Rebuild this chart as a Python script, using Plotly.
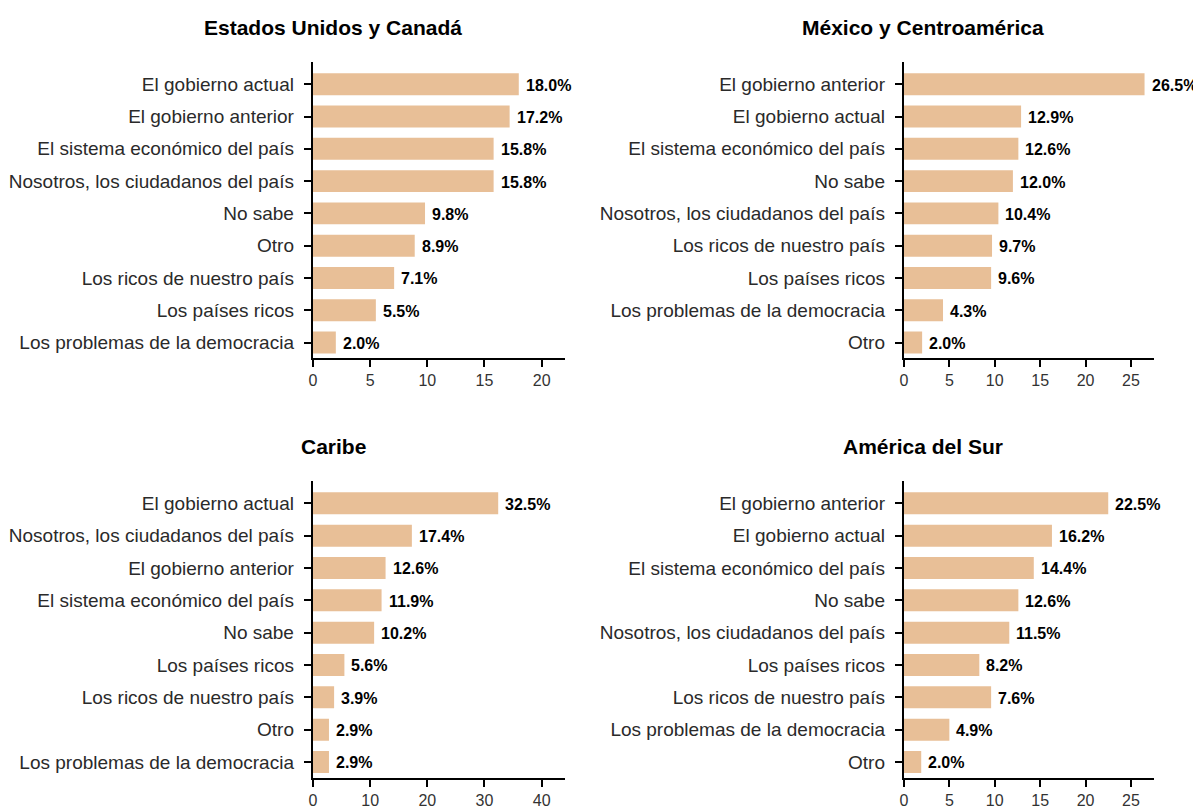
import plotly.graph_objects as go

# ---------------- data ----------------
titles = ["Estados Unidos y Canadá", "México y Centroamérica", "Caribe", "América del Sur"]

cats_us = ["El gobierno actual", "El gobierno anterior", "El sistema económico del país",
           "Nosotros, los ciudadanos del país", "No sabe", "Otro",
           "Los ricos de nuestro país", "Los países ricos", "Los problemas de la democracia"]
vals_us = [18.0, 17.2, 15.8, 15.8, 9.8, 8.9, 7.1, 5.5, 2.0]
labels_us = ["18.0%", "17.2%", "15.8%", "15.8%", "9.8%", "8.9%", "7.1%", "5.5%", "2.0%"]

cats_mx = ["El gobierno anterior", "El gobierno actual", "El sistema económico del país",
           "No sabe", "Nosotros, los ciudadanos del país", "Los ricos de nuestro país",
           "Los países ricos", "Los problemas de la democracia", "Otro"]
vals_mx = [26.5, 12.9, 12.6, 12.0, 10.4, 9.7, 9.6, 4.3, 2.0]
labels_mx = ["26.5%", "12.9%", "12.6%", "12.0%", "10.4%", "9.7%", "9.6%", "4.3%", "2.0%"]

cats_cb = ["El gobierno actual", "Nosotros, los ciudadanos del país", "El gobierno anterior",
           "El sistema económico del país", "No sabe", "Los países ricos",
           "Los ricos de nuestro país", "Otro", "Los problemas de la democracia"]
vals_cb = [32.4, 17.3, 12.7, 12.0, 10.7, 5.5, 3.7, 2.8, 2.8]
labels_cb = ["32.5%", "17.4%", "12.6%", "11.9%", "10.2%", "5.6%", "3.9%", "2.9%", "2.9%"]

cats_sa = ["El gobierno anterior", "El gobierno actual", "El sistema económico del país",
           "No sabe", "Nosotros, los ciudadanos del país", "Los países ricos",
           "Los ricos de nuestro país", "Los problemas de la democracia", "Otro"]
vals_sa = [22.5, 16.3, 14.3, 12.6, 11.6, 8.3, 9.6, 5.0, 1.9]
labels_sa = ["22.5%", "16.2%", "14.4%", "12.6%", "11.5%", "8.2%", "7.6%", "4.9%", "2.0%"]

x_ranges = [22, 27.5, 44, 27.5]
x_dticks = [5, 5, 10, 5]

# ---------------- style ----------------
W, H = 1193, 810
BAR = "#E8BF97"
FONT = "Liberation Sans, Arial, Helvetica, sans-serif"

x_doms = [[310 / W, 562.4 / W], [903 / W, 1153.5 / W]]
y_doms = [[1 - 358 / H, 1 - 62 / H], [1 - 777.5 / H, 1 - 481 / H]]
title_pos = [(330 / W, 1 - 28 / H), (922 / W, 1 - 28 / H),
             (331 / W, 1 - 447 / H), (922 / W, 1 - 447 / H)]

panels = [(cats_us, vals_us, labels_us), (cats_mx, vals_mx, labels_mx),
          (cats_cb, vals_cb, labels_cb), (cats_sa, vals_sa, labels_sa)]

fig = go.Figure()
annotations = []
layout_axes = {}

for i, (cats, vals, labs) in enumerate(panels):
    n = i + 1
    xa = "x" if n == 1 else f"x{n}"
    ya = "y" if n == 1 else f"y{n}"
    row, col = divmod(i, 2)
    fig.add_trace(go.Bar(
        x=vals, y=cats, orientation="h", xaxis=xa, yaxis=ya,
        marker=dict(color=BAR, line=dict(width=0)), width=0.68,
        showlegend=False, hoverinfo="skip",
    ))
    for v, c, t in zip(vals, cats, labs):
        annotations.append(dict(
            x=v, y=c, xref=xa, yref=ya, text=t, showarrow=False,
            xanchor="left", yanchor="middle", xshift=5, yshift=-1,
            font=dict(family=FONT, size=16, color="#000000", weight="bold"),
        ))
    tx, ty = title_pos[i]
    annotations.append(dict(
        x=tx, y=ty, xref="paper", yref="paper", text=f"<b>{titles[i]}</b>",
        showarrow=False, xanchor="center", yanchor="middle",
        font=dict(family=FONT, size=21, color="#000000"),
    ))
    xkey = "xaxis" if n == 1 else f"xaxis{n}"
    ykey = "yaxis" if n == 1 else f"yaxis{n}"
    layout_axes[xkey] = dict(
        domain=x_doms[col], anchor=ya, range=[0, x_ranges[i]], dtick=x_dticks[i], tick0=0,
        showgrid=False, zeroline=False, showline=True, linecolor="#000000", linewidth=2.4,
        ticks="outside", ticklen=7, tickwidth=2.4, tickcolor="#000000",
        tickfont=dict(family=FONT, size=16, color="#333333"), fixedrange=True,
    )
    layout_axes[ykey] = dict(
        domain=y_doms[row], anchor=xa, type="category",
        categoryorder="array", categoryarray=cats, range=[8.48, -0.69],
        showgrid=False, zeroline=False, showline=True, linecolor="#000000", linewidth=2.4,
        ticks="outside", ticklen=7, tickwidth=2.4, tickcolor="#000000",
        tickfont=dict(family=FONT, size=19, color="#2a2a2a"), ticklabelstandoff=6,
        fixedrange=True,
    )

fig.update_layout(
    width=W, height=H,
    margin=dict(l=0, r=0, t=0, b=0),
    paper_bgcolor="white", plot_bgcolor="white",
    annotations=annotations,
    bargap=0.32,
    **layout_axes,
)

fig.write_html(
    "out.html",
    config={"displayModeBar": False},
    post_script="document.body.style.margin='0';document.body.style.overflow='hidden';",
)
